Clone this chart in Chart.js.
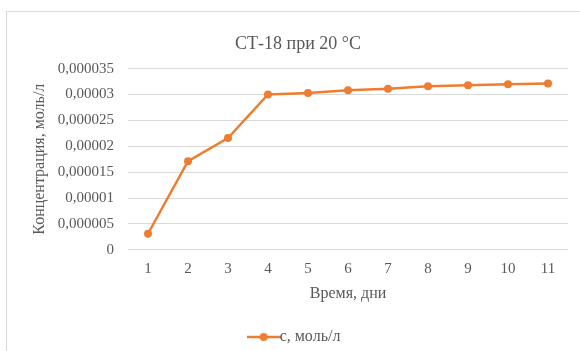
<!DOCTYPE html>
<html>
<head>
<meta charset="utf-8">
<script src="https://cdn.jsdelivr.net/npm/chart.js@4"></script>
<style>
  html, body { margin: 0; padding: 0; background: #fff; }
  #wrap { position: relative; width: 580px; height: 351px; }
  #frame { position: absolute; left: 6px; top: 11px; width: 600px; height: 400px;
           border-left: 1px solid #d9d9d9; border-top: 1px solid #d9d9d9; }
  #chart { position: absolute; left: 0; top: 0; }
</style>
</head>
<body>
<div id="wrap">
  <div id="frame"></div>
  <canvas id="chart" width="580" height="351"></canvas>
</div>
<script>
// data
const days = ['1', '2', '3', '4', '5', '6', '7', '8', '9', '10', '11'];
const conc = [0.0000031, 0.0000171, 0.0000216, 0.00003, 0.0000303, 0.0000308, 0.0000311, 0.0000316, 0.0000318, 0.000032, 0.0000321];
const seriesName = 'с, моль/л';
const chartTitle = 'СТ-18 при 20 °С';
const xTitle = 'Время, дни';
const yTitle = 'Концентрация, моль/л';

const orange = '#ED7D31';
const grey = '#595959';
const font = 'Liberation Serif, Times New Roman, serif';

// legend marker: short line with a dot, like the spreadsheet one
function legendMark() {
  const c = document.createElement('canvas');
  c.width = 34; c.height = 10;
  const g = c.getContext('2d');
  g.strokeStyle = orange;
  g.lineWidth = 2.5;
  g.beginPath(); g.moveTo(0, 5); g.lineTo(34, 5); g.stroke();
  g.fillStyle = orange;
  g.beginPath(); g.arc(17, 5, 4, 0, Math.PI * 2); g.fill();
  return c;
}

function fmt(v) {
  const s = String(Number(v.toFixed(7)));
  return s.replace('.', ',');
}

const ctx = document.getElementById('chart').getContext('2d');
new Chart(ctx, {
  type: 'line',
  data: {
    labels: days,
    datasets: [{
      label: seriesName,
      data: conc,
      borderColor: orange,
      backgroundColor: orange,
      borderWidth: 2.5,
      pointRadius: 4,
      pointBackgroundColor: orange,
      pointBorderWidth: 0,
      tension: 0,
      fill: false
    }]
  },
  options: {
    responsive: false,
    animation: false,
    layout: { padding: { left: 28, right: 12, top: 33, bottom: -4 } },
    plugins: {
      title: {
        display: true,
        text: chartTitle,
        color: grey,
        font: { family: font, size: 18, weight: 'normal' },
        padding: { top: 0, bottom: 14 }
      },
      legend: {
        position: 'bottom',
        labels: {
          color: grey,
          font: { family: font, size: 16 },
          usePointStyle: true,
          generateLabels: function (chart) {
            return [{
              text: seriesName,
              pointStyle: legendMark(),
              fontColor: grey,
              datasetIndex: 0,
              hidden: false
            }];
          },
          padding: 2
        }
      },
      tooltip: { enabled: false }
    },
    scales: {
      x: {
        offset: true,
        grid: { display: false },
        border: { display: false },
        ticks: { color: grey, font: { family: font, size: 15 }, padding: 2 },
        title: {
          display: true, text: xTitle, color: grey,
          font: { family: font, size: 16 }, padding: { top: 4, bottom: 24 }
        }
      },
      y: {
        min: 0,
        max: 0.000035,
        afterFit: function (s) { s.width = 100; },
        grid: { color: '#d9d9d9', lineWidth: 1, drawTicks: false },
        border: { display: false },
        ticks: {
          stepSize: 0.000005,
          color: grey,
          font: { family: font, size: 15 },
          padding: 14,
          callback: function (v) { return fmt(v); }
        },
        title: {
          display: true, text: yTitle, color: grey,
          font: { family: font, size: 16 }, padding: { top: 2, bottom: 2 }
        }
      }
    }
  }
});
</script>
</body>
</html>
